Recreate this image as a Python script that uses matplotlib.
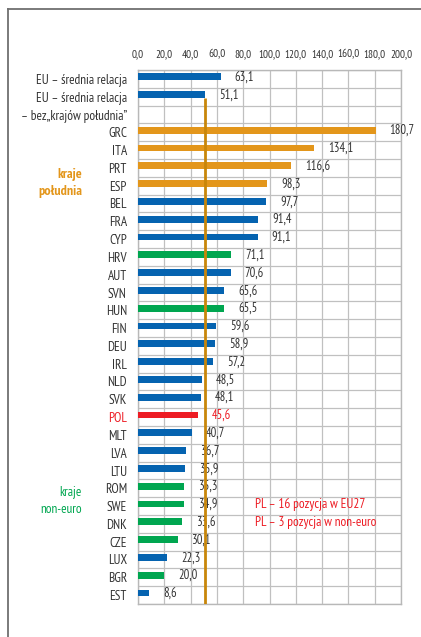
import numpy as np
import matplotlib.pyplot as plt
from matplotlib.lines import Line2D

plt.rcParams['font.family'] = ['PT Sans Narrow', 'Liberation Sans', 'DejaVu Sans']

categories = ['EU – średnia relacja', 'EU – średnia relacja', 'GRC', 'ITA', 'PRT', 'ESP', 'BEL', 'FRA',
              'CYP', 'HRV', 'AUT', 'SVN', 'HUN', 'FIN', 'DEU', 'IRL', 'NLD', 'SVK', 'POL', 'MLT',
              'LVA', 'LTU', 'ROM', 'SWE', 'DNK', 'CZE', 'LUX', 'BGR', 'EST']
values = [63.1, 51.1, 180.7, 134.1, 116.6, 98.3, 97.7, 91.4, 91.1, 71.1, 70.6, 65.6, 65.5, 59.6,
          58.9, 57.2, 48.5, 48.1, 45.6, 40.7, 36.7, 35.9, 35.3, 34.9, 33.6, 30.1, 22.3, 20.0, 8.6]
groups = ['eu', 'eu', 'south', 'south', 'south', 'south', 'euro', 'euro', 'euro', 'noneuro', 'euro',
          'euro', 'noneuro', 'euro', 'euro', 'euro', 'euro', 'euro', 'pol', 'euro', 'euro', 'euro',
          'noneuro', 'noneuro', 'noneuro', 'noneuro', 'euro', 'noneuro', 'euro']
second_line = '– bez„krajów południa”'
ref_value = 51.1
xticks = [0, 20, 40, 60, 80, 100, 120, 140, 160, 180, 200]
notes = ['PL – 16 pozycja w EU27', 'PL – 3 pozycja w non-euro']

colors = {'eu': '#0563b0', 'euro': '#0563b0', 'south': '#e3961b', 'noneuro': '#00a650', 'pol': '#ed1c24'}
ORANGE = '#e3961b'
GREEN = '#00a650'
RED = '#ed1c24'
TEXT = '#333333'

# rows: an empty row after the second EU bar holds the label's second line
pos = np.array([i if i < 2 else i + 1 for i in range(len(categories))])
nrows = len(categories) + 1

fig = plt.figure(figsize=(4.21, 6.37), dpi=100)
ax = fig.add_axes([138 / 421, 1 - 604 / 637, 263 / 421, 534 / 637])

bar_colors = [colors[g] for g in groups]
ax.barh(pos - 0.12, values, height=0.38, color=bar_colors, zorder=3)

for p, v, g in zip(pos, values, groups):
    c = RED if g == 'pol' else TEXT
    ax.annotate(f'{v:.1f}'.replace('.', ','), (v, p - 0.1), xytext=(10, 0), textcoords='offset points',
                va='center', ha='left', fontsize=9, color=c, zorder=4)

ax.set_xlim(0, 200)
ax.set_ylim(nrows - 0.5, -0.5)
ax.set_xticks(xticks)
ax.set_xticklabels([f'{t:.1f}'.replace('.', ',') for t in xticks], fontsize=8, color=TEXT)
ax.xaxis.tick_top()
ax.tick_params(axis='x', length=0, pad=8)

ax.set_yticks(list(pos) + [2])
ylabels = ax.set_yticklabels(categories + [second_line], fontsize=9.5, color=TEXT)
for lab, g in zip(ylabels, groups):
    if g == 'pol':
        lab.set_color(RED)
ax.tick_params(axis='y', length=0, pad=8)

ax.set_yticks(np.arange(-0.5, nrows, 1), minor=True)
ax.grid(True, axis='x', color='#c0c0c0', linewidth=0.9, zorder=0)
ax.grid(True, axis='y', which='minor', color='#c0c0c0', linewidth=0.9, zorder=0)
ax.grid(False, axis='y', which='major')
ax.tick_params(axis='y', which='minor', length=0)
for s in ax.spines.values():
    s.set_color('#b8b8b8')
    s.set_linewidth(1.0)

# reference line (EU average without southern countries)
ax.plot([ref_value, ref_value], [pos[1] + 0.07, nrows - 0.5], color='#c8860a', linewidth=2.0, zorder=5,
        solid_capstyle='butt')

# group labels
ax.text(-0.213, 5.85, 'kraje\npołudnia', transform=ax.get_yaxis_transform(), ha='right', va='center',
        fontsize=10, color=ORANGE, fontweight='bold', linespacing=1.45)
ax.text(-0.213, 23.7, 'kraje\nnon-euro', transform=ax.get_yaxis_transform(), ha='right', va='center',
        fontsize=9.5, color=GREEN, linespacing=1.4)

ax.text(89, pos[categories.index('SWE')] - 0.1, notes[0], ha='left', va='center', fontsize=9.5, color=RED)
ax.text(89, pos[categories.index('DNK')] - 0.1, notes[1], ha='left', va='center', fontsize=9.5, color=RED)

# outer frame
fig.add_artist(Line2D([8 / 421, 1.0], [1 - 8.5 / 637, 1 - 8.5 / 637], color='#707070', linewidth=1.3))
fig.add_artist(Line2D([8 / 421, 8 / 421], [1 - 8.5 / 637, 0.0], color='#707070', linewidth=1.3))

fig.savefig('out.png', dpi=100, facecolor='white')
